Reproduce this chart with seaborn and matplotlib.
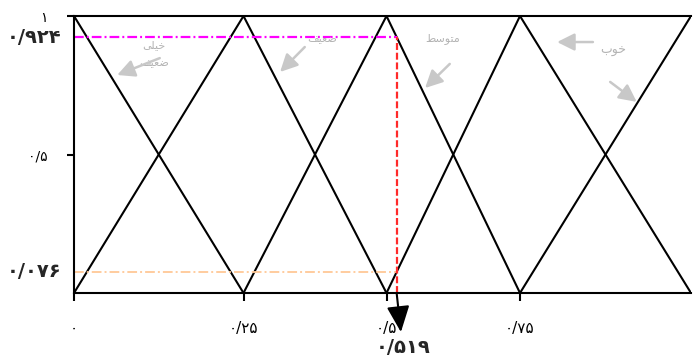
import numpy as np
import pandas as pd
import matplotlib
matplotlib.use('Agg')
import matplotlib.pyplot as plt
import matplotlib.transforms as mtransforms
import seaborn as sns

# breakpoints of the triangular fuzzy sets and their linguistic terms
breaks = [0, 0.25, 0.5, 0.75, 1]
terms = ['خیلی ضعیف', 'ضعیف', 'متوسط', 'خوب', 'خیلی خوب']
x_tick_labels = ['۰', '۰/۲۵', '۰/۵', '۰/۷۵']
y_tick_vals = [0.5, 1]
y_tick_labels = ['۰/۵', '۱']

# the evaluated point and its two memberships
sample_x = 0.519
sample_label = '۰/۵۱۹'
mu_high = 0.924
mu_high_label = '۰/۹۲۴'
mu_low = 0.076
mu_low_label = '۰/۰۷۶'

# presentation forms (isolated, final, initial, medial) for the letters used,
# matplotlib has no arabic shaping of its own
FORMS = {
    'خ': '\uFEA5\uFEA6\uFEA7\uFEA8',
    'ی': '\uFBFC\uFBFD\uFBFE\uFBFF',
    'ل': '\uFEDD\uFEDE\uFEDF\uFEE0',
    'ض': '\uFEBD\uFEBE\uFEBF\uFEC0',
    'ع': '\uFEC9\uFECA\uFECB\uFECC',
    'ف': '\uFED1\uFED2\uFED3\uFED4',
    'م': '\uFEE1\uFEE2\uFEE3\uFEE4',
    'ت': '\uFE95\uFE96\uFE97\uFE98',
    'و': '\uFEED\uFEEE\uFEED\uFEEE',
    'س': '\uFEB1\uFEB2\uFEB3\uFEB4',
    'ط': '\uFEC1\uFEC2\uFEC3\uFEC4',
    'ب': '\uFE8F\uFE90\uFE91\uFE92',
}
RIGHT_ONLY = set('و')


def shape(text):
    lines = []
    for line in text.split('\n'):
        out = []
        for i, ch in enumerate(line):
            if ch not in FORMS:
                out.append(ch)
                continue
            prev = line[i - 1] if i > 0 else ''
            nxt = line[i + 1] if i + 1 < len(line) else ''
            jp = prev in FORMS and prev not in RIGHT_ONLY
            jn = nxt in FORMS and ch not in RIGHT_ONLY
            iso, fin, ini, med = FORMS[ch]
            out.append(med if (jp and jn) else fin if jp else ini if jn else iso)
        lines.append(''.join(reversed(out)))
    return '\n'.join(lines)


# long table: each term is a triangle peaking at its own breakpoint
rows = []
for i, term in enumerate(terms):
    for j in (i - 1, i, i + 1):
        if 0 <= j < len(breaks):
            rows.append({'term': term, 'x': breaks[j], 'mu': 1.0 if j == i else 0.0})
df = pd.DataFrame(rows)

sns.set_style('ticks')
plt.rcParams['font.family'] = ['DejaVu Sans']
plt.rcParams['lines.scale_dashes'] = False

fig = plt.figure(figsize=(6.93, 3.56), dpi=100)
ax = fig.add_axes([74 / 693, 1 - 293 / 356, 617 / 693, 277 / 356])

# the original drawing spaces the breakpoints unevenly
knots = [0, 169.5, 312.5, 446, 617]
ax.set_xscale('function', functions=(lambda v: np.interp(v, breaks, knots),
                                     lambda p: np.interp(p, knots, breaks)))

sns.lineplot(data=df, x='x', y='mu', units='term', estimator=None, sort=False,
             color='black', lw=1.5, ax=ax)

ax.plot([0, sample_x], [mu_high, mu_high], color='#ff00ff', lw=1.6, dashes=(7, 2.2, 1.4, 2.2))
ax.plot([0, sample_x], [mu_low, mu_low], color='#ffc896', lw=1.3, dashes=(7, 2.2, 1.4, 2.2))
ax.plot([sample_x, sample_x], [0, mu_high], color='#ff2a2a', lw=1.6, dashes=(5, 2))

ax.set_xlim(0, 1)
ax.set_ylim(0, 1)
ax.set_xticks(breaks[:4])
ax.set_xticklabels(x_tick_labels)
ax.set_yticks(y_tick_vals)
ax.set_yticklabels(y_tick_labels)
ax.set_xlabel('')
ax.set_ylabel('')
ax.tick_params(axis='x', direction='out', length=6, width=1.5, pad=14, labelsize=11, colors='black')
ax.tick_params(axis='y', direction='out', length=5, width=1.5, pad=14, labelsize=10, colors='black')
ax.spines['right'].set_visible(False)
for side in ['left', 'bottom', 'top']:
    ax.spines[side].set_linewidth(1.5)
    ax.spines[side].set_color('black')

ytr = ax.get_yaxis_transform()
ax.text(-0.02, mu_high, mu_high_label, transform=ytr, ha='right', va='center',
        fontsize=14, fontweight='bold')
ax.text(-0.02, mu_low, mu_low_label, transform=ytr, ha='right', va='center',
        fontsize=14, fontweight='bold')

# arrow from the evaluated point down to its value
mixed = mtransforms.blended_transform_factory(ax.transData, ax.transAxes)
ax.annotate('', xy=(sample_x + 0.008, -0.141), xycoords=mixed,
            xytext=(sample_x, 0), textcoords='data',
            arrowprops=dict(arrowstyle='-|>,head_length=0.8,head_width=0.35',
                            mutation_scale=20, color='black', lw=1.5,
                            shrinkA=0, shrinkB=0),
            annotation_clip=False)
ax.text(sample_x + 0.012, -0.195, sample_label, transform=mixed, ha='center', va='center',
        fontsize=14, fontweight='bold', clip_on=False)

# faded term labels with arrows (axes fractions)
gray = '#b4b4b4'
ax.text(0.130, 0.862, shape(terms[0].replace(' ', '\n')), transform=ax.transAxes,
        ha='center', va='center', fontsize=8, color=gray, linespacing=2.0)
ax.text(0.402, 0.917, shape(terms[1]), transform=ax.transAxes,
        ha='center', va='center', fontsize=8, color=gray)
ax.text(0.598, 0.917, shape(terms[2]), transform=ax.transAxes,
        ha='center', va='center', fontsize=8, color=gray)
ax.text(0.874, 0.877, shape(terms[3]), transform=ax.transAxes,
        ha='center', va='center', fontsize=9, color=gray)

gray_arrows = [((0.139, 0.848), (0.070, 0.787)),
               ((0.374, 0.888), (0.334, 0.798)),
               ((0.609, 0.827), (0.569, 0.740)),
               ((0.841, 0.906), (0.783, 0.906)),
               ((0.869, 0.762), (0.912, 0.690))]
for tail, head in gray_arrows:
    ax.annotate('', xy=head, xycoords='axes fraction', xytext=tail,
                textcoords='axes fraction',
                arrowprops=dict(arrowstyle='-|>,head_length=0.7,head_width=0.35',
                                mutation_scale=15, color='#c8c8c8', lw=1.8,
                                shrinkA=0, shrinkB=0))

fig.savefig('out.png', dpi=100)
plt.close(fig)
